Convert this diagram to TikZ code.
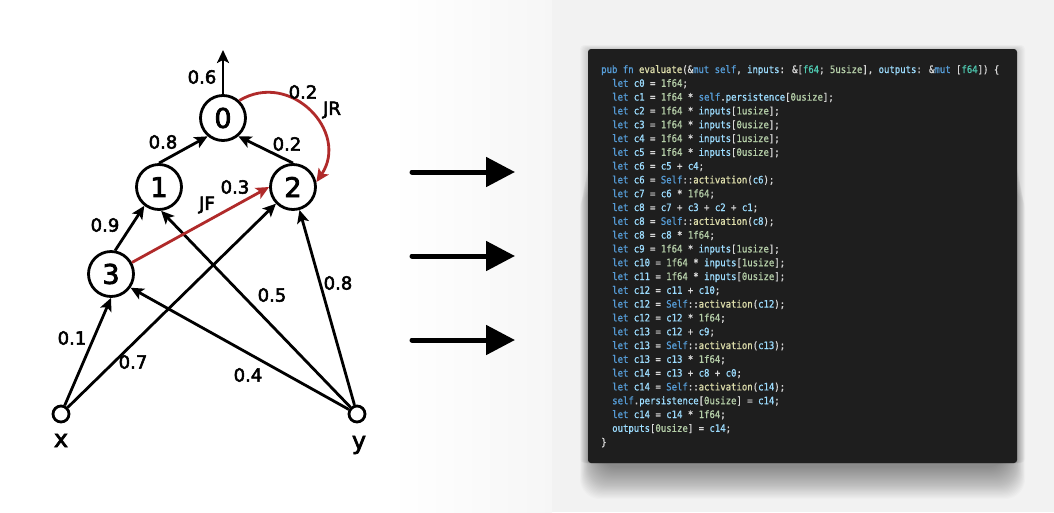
\documentclass[tikz,border=0pt]{standalone}
\usepackage{fontspec}
\usepackage{xcolor}
\usepackage{tikz}
\usetikzlibrary{arrows.meta, calc}
\newfontfamily\graphfont[FakeBold=3]{DejaVu Sans}
\newfontfamily\codefont[FakeStretch=0.88, FakeBold=1]{DejaVu Sans Mono}
\definecolor{jumpred}{HTML}{B02A2A}
\definecolor{panelbg}{HTML}{1E1E1E}
\definecolor{codefg}{HTML}{D8D8D8}
\definecolor{codekw}{HTML}{569CD6}
\definecolor{codefn}{HTML}{DCDCAA}
\definecolor{codevar}{HTML}{9CDCFE}
\definecolor{codenum}{HTML}{B5CEA8}
\definecolor{codetype}{HTML}{4EC9B0}
\newcommand{\ckw}[1]{\textcolor{codekw}{#1}}
\newcommand{\cfn}[1]{\textcolor{codefn}{#1}}
\newcommand{\cvar}[1]{\textcolor{codevar}{#1}}
\newcommand{\cnum}[1]{\textcolor{codenum}{#1}}
\newcommand{\ctype}[1]{\textcolor{codetype}{#1}}
\tikzset{
    neuron/.style={circle, draw, line width=2.8pt, minimum size=45pt, inner sep=0pt, font=\graphfont\fontsize{27}{27}\selectfont},
    inputnode/.style={circle, draw, line width=2.8pt, minimum size=16pt, inner sep=0pt},
    synapse/.style={line width=2.8pt, -{Stealth[length=13pt, width=12pt, inset=3pt]}},
    jump/.style={synapse, draw=jumpred},
    weight/.style={font=\graphfont\fontsize{18}{18}\selectfont, inner sep=0pt},
    iolabel/.style={font=\graphfont\fontsize{24}{24}\selectfont, inner sep=0pt, anchor=base},
    bigarrow/.style={line width=5pt, line cap=round, -{Triangle[length=29pt, width=29pt]}},
    codeline/.style={anchor=base west, inner sep=0pt, text=codefg, font=\codefont\fontsize{10.2}{13.8}\selectfont},
    panel/.style={fill=panelbg, rounded corners=3pt}
}

\begin{document}
\begin{tikzpicture}[x=1pt, y=1pt]
    \useasboundingbox (0,0) rectangle (1054,-512);
    % background
    \fill[white] (0,0) rectangle (1054,-512);
    \shade[left color=white, right color=gray!7] (390,0) rectangle (552,-512);
    \fill[gray!10] (552,0) rectangle (1054,-512);

    % network
    \node[neuron] (n0) at (223,-118) {0};
    \node[neuron] (n1) at (159,-187) {1};
    \node[neuron] (n2) at (293,-187) {2};
    \node[neuron] (n3) at (111,-274) {3};
    \node[inputnode] (x) at (61,-414) {};
    \node[inputnode] (y) at (357,-414) {};
    \node[iolabel] (xlab) at (61,-447) {x};
    \node[iolabel] (ylab) at (359,-449) {y};
    \coordinate (out0) at (223,-50);

    \draw[synapse] (n0.north) -- (out0);
    \draw[synapse] (n1.north) -- (n0.-130);
    \draw[synapse] (n2.north) -- (n0.-50);
    \draw[synapse] (n3.80) -- (n1.-128);
    \draw[synapse] (x) -- (n3.south);
    \draw[synapse] (x) -- (n2);
    \draw[synapse] (y) -- (n3.-35);
    \draw[synapse] (y) -- (n1.-85);
    \draw[synapse] (y) -- (n2);
    \draw[jump] (n3) -- (n2.west);
    \draw[jump] (n0.47) to[out=31, in=56, distance=60pt] (n2.12);

    \node[weight] (w0) at (202,-77) {0.6};
    \node[weight] (w10) at (163,-142) {0.8};
    \node[weight] (w20) at (287,-144) {0.2};
    \node[weight] (w02) at (303,-92) {0.2};
    \node[weight] (jr) at (332,-110) {JR};
    \node[weight] (w31) at (105,-225) {0.9};
    \node[weight] (w32) at (235,-187) {0.3};
    \node[weight] (jf) at (207,-205) {JF};
    \node[weight] (wx3) at (72,-338) {0.1};
    \node[weight] (wx2) at (133,-362) {0.7};
    \node[weight] (wy3) at (248,-375) {0.4};
    \node[weight] (wy1) at (272,-295) {0.5};
    \node[weight] (wy2) at (338,-283) {0.8};

    % translation arrows
    \foreach \ya in {172,256,340}
        \draw[bigarrow] (412,-\ya) -- (515,-\ya);

    % code panel with soft shadow
    \foreach \s in {1,...,30}
        \fill[black, opacity=0.017, rounded corners=20pt] (598-0.6*\s,-100-3*\s) rectangle (1007+0.6*\s,-466-1.1*\s);
    \foreach \s in {1,...,8}
        \fill[black, opacity=0.02, rounded corners=4pt] (588-\s,-49+0.5*\s) rectangle (1017+\s,-463);
    \fill[panel] (588,-49) rectangle (1017,-463);
    \node[codeline] (head) at (601,-73) {\ckw{pub} \ckw{fn} \cfn{evaluate}(\&\ckw{mut} \ckw{self}, \cvar{inputs}: \&[\ctype{f64}; \cnum{5usize}], \cvar{outputs}: \&\ckw{mut} [\ctype{f64}]) \{};
    \foreach \codeln [count=\k] in {
        {\ckw{let} \cvar{c0} = \cnum{1f64};},
        {\ckw{let} \cvar{c1} = \cnum{1f64} * \ckw{self}.\cvar{persistence}[\cnum{0usize}];},
        {\ckw{let} \cvar{c2} = \cnum{1f64} * \cvar{inputs}[\cnum{1usize}];},
        {\ckw{let} \cvar{c3} = \cnum{1f64} * \cvar{inputs}[\cnum{0usize}];},
        {\ckw{let} \cvar{c4} = \cnum{1f64} * \cvar{inputs}[\cnum{1usize}];},
        {\ckw{let} \cvar{c5} = \cnum{1f64} * \cvar{inputs}[\cnum{0usize}];},
        {\ckw{let} \cvar{c6} = \cvar{c5} + \cvar{c4};},
        {\ckw{let} \cvar{c6} = \ckw{Self}::\cfn{activation}(\cvar{c6});},
        {\ckw{let} \cvar{c7} = \cvar{c6} * \cnum{1f64};},
        {\ckw{let} \cvar{c8} = \cvar{c7} + \cvar{c3} + \cvar{c2} + \cvar{c1};},
        {\ckw{let} \cvar{c8} = \ckw{Self}::\cfn{activation}(\cvar{c8});},
        {\ckw{let} \cvar{c8} = \cvar{c8} * \cnum{1f64};},
        {\ckw{let} \cvar{c9} = \cnum{1f64} * \cvar{inputs}[\cnum{1usize}];},
        {\ckw{let} \cvar{c10} = \cnum{1f64} * \cvar{inputs}[\cnum{1usize}];},
        {\ckw{let} \cvar{c11} = \cnum{1f64} * \cvar{inputs}[\cnum{0usize}];},
        {\ckw{let} \cvar{c12} = \cvar{c11} + \cvar{c10};},
        {\ckw{let} \cvar{c12} = \ckw{Self}::\cfn{activation}(\cvar{c12});},
        {\ckw{let} \cvar{c12} = \cvar{c12} * \cnum{1f64};},
        {\ckw{let} \cvar{c13} = \cvar{c12} + \cvar{c9};},
        {\ckw{let} \cvar{c13} = \ckw{Self}::\cfn{activation}(\cvar{c13});},
        {\ckw{let} \cvar{c13} = \cvar{c13} * \cnum{1f64};},
        {\ckw{let} \cvar{c14} = \cvar{c13} + \cvar{c8} + \cvar{c0};},
        {\ckw{let} \cvar{c14} = \ckw{Self}::\cfn{activation}(\cvar{c14});},
        {\ckw{self}.\cvar{persistence}[\cnum{0usize}] = \cvar{c14};},
        {\ckw{let} \cvar{c14} = \cvar{c14} * \cnum{1f64};},
        {\cvar{outputs}[\cnum{0usize}] = \cvar{c14};}}
        \node[codeline] (code\k) at (612,{-73-13.8*\k}) {\codeln};
    \node[codeline] (tail) at (601,{-73-13.8*27}) {\}};
\end{tikzpicture}
\end{document}
